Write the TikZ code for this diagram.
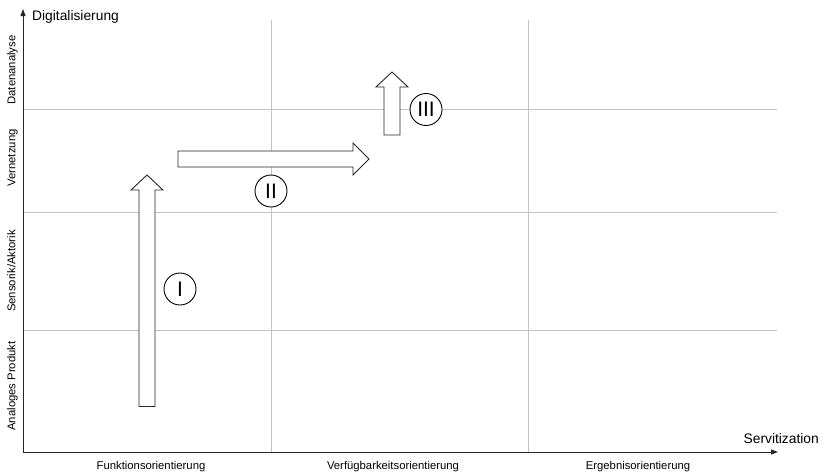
\documentclass[tikz,border=0pt]{standalone}
\usepackage{fontspec}
\setmainfont{Liberation Sans}
\usetikzlibrary{arrows.meta}
\begin{document}
\begin{tikzpicture}[x=1pt,y=-1pt,
  gridline/.style={draw=black!24, line width=0.9pt},
  axisline/.style={draw=black!85, line width=1pt, -{Triangle[length=7pt,width=5pt]}},
  blockarrow/.style={draw=black!85, fill=white, line width=0.9pt, line join=miter},
  roman/.style={circle, draw=black, fill=white, line width=0.9pt, minimum size=32pt, inner sep=0pt, font=\fontsize{21}{21}\selectfont},
  ylab/.style={rotate=90, anchor=base, font=\fontsize{11.3}{12}\selectfont, inner sep=0pt},
  xlab/.style={anchor=base, font=\fontsize{11.3}{12}\selectfont, inner sep=0pt},
  axlab/.style={font=\fontsize{13.8}{15}\selectfont, inner sep=0pt}]
\useasboundingbox (0,0) rectangle (825,474);
% grid
\coordinate (h1a) at (24,109); \coordinate (h1b) at (777,109);
\coordinate (h2a) at (24,212); \coordinate (h2b) at (777,212);
\coordinate (h3a) at (24,330); \coordinate (h3b) at (777,330);
\coordinate (v1a) at (271,20); \coordinate (v1b) at (271,452);
\coordinate (v2a) at (528,20); \coordinate (v2b) at (528,452);
\draw[gridline] (h1a) -- (h1b);
\draw[gridline] (h2a) -- (h2b);
\draw[gridline] (h3a) -- (h3b);
\draw[gridline] (v1a) -- (v1b);
\draw[gridline] (v2a) -- (v2b);
% axes
\coordinate (o) at (23,452);
\coordinate (ytop) at (23,9);
\coordinate (xend) at (778,452);
\draw[axisline] (o) -- (ytop);
\draw[axisline] (o) -- (xend);
\node[axlab, anchor=base west] (ytitle) at (32,20.5) {Digitalisierung};
\node[axlab, anchor=base east] (xtitle) at (819,443) {Servitization};
% y labels
\node[ylab] (ly1) at (15.5,70) {Datenanalyse};
\node[ylab] (ly2) at (15.5,158) {Vernetzung};
\node[ylab] (ly3) at (15.5,271) {Sensorik/Aktorik};
\node[ylab] (ly4) at (15.5,386) {Analoges Produkt};
% x labels
\node[xlab] (lx1) at (151,469) {Funktionsorientierung};
\node[xlab] (lx2) at (393,469) {Verfügbarkeitsorientierung};
\node[xlab] (lx3) at (638,469) {Ergebnisorientierung};
% block arrows
\draw[blockarrow] (139,406.5) -- (139,190) -- (131,190) -- (147,175) -- (163,190) -- (155,190) -- (155,406.5) -- cycle;
\draw[blockarrow] (178,151) -- (353,151) -- (353,143) -- (369,159) -- (353,175) -- (353,167) -- (178,167) -- cycle;
\draw[blockarrow] (384,135) -- (384,87) -- (376,87) -- (392,72) -- (408,87) -- (400,87) -- (400,135) -- cycle;
% circled numerals
\node[roman] (c1) at (180,289) {I};
\node[roman] (c2) at (271,191) {II};
\node[roman] (c3) at (426,109.5) {III};
\end{tikzpicture}
\end{document}
